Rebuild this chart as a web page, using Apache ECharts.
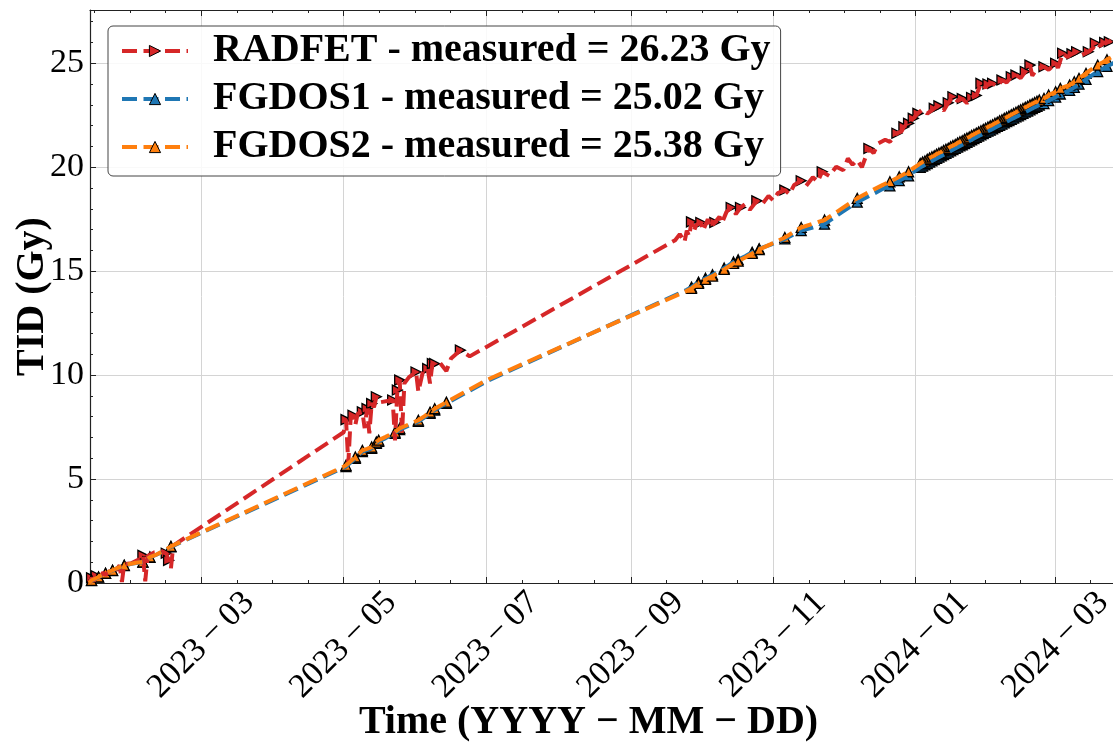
<!DOCTYPE html>
<html>
<head>
<meta charset="utf-8">
<script src="https://cdn.jsdelivr.net/npm/echarts@6/dist/echarts.min.js"></script>
<style>
  html, body { margin: 0; padding: 0; background: #fff; }
  #chart { width: 1113px; height: 744px; }
</style>
</head>
<body>
<div id="chart"></div>
<script>
// TID series, [date, Gy]
const radfet = [
  ['2023-01-12', 0.00], ['2023-01-13', 0.25], ['2023-01-14', 0.08], ['2023-01-15', 0.35], ['2023-01-16', 0.22],
  ['2023-01-18', 0.50], ['2023-01-19', 0.38], ['2023-01-21', 0.62], ['2023-01-23', 0.55], ['2023-01-25', 0.85],
  ['2023-01-26', 0.05], ['2023-01-27', 0.90], ['2023-01-30', 0.95], ['2023-02-02', 1.12], ['2023-02-04', 1.33],
  ['2023-02-05', 0.08], ['2023-02-06', 1.30], ['2023-02-09', 1.48], ['2023-02-12', 1.52], ['2023-02-14', 1.43],
  ['2023-02-15', 1.09], ['2023-02-16', 0.70], ['2023-02-17', 1.80],
  ['2023-05-01', 7.25], ['2023-05-02', 7.86], ['2023-05-03', 5.76], ['2023-05-04', 7.95], ['2023-05-05', 8.07],
  ['2023-05-06', 7.60], ['2023-05-07', 8.15], ['2023-05-09', 8.23], ['2023-05-10', 7.45], ['2023-05-11', 8.39],
  ['2023-05-12', 7.20], ['2023-05-13', 8.63], ['2023-05-14', 8.45], ['2023-05-15', 8.96], ['2023-05-17', 8.70],
  ['2023-05-22', 8.80], ['2023-05-23', 6.86], ['2023-05-24', 9.28], ['2023-05-25', 9.76], ['2023-05-26', 7.20],
  ['2023-05-27', 9.60], ['2023-05-29', 9.90], ['2023-06-01', 10.15], ['2023-06-02', 9.20], ['2023-06-04', 10.20],
  ['2023-06-06', 10.31], ['2023-06-07', 9.60], ['2023-06-08', 10.55], ['2023-06-09', 10.55], ['2023-06-11', 10.62],
  ['2023-06-14', 10.20], ['2023-06-16', 10.80], ['2023-06-20', 11.20], ['2023-06-24', 10.90],
  ['2023-09-20', 16.49], ['2023-09-22', 16.78], ['2023-09-24', 16.40], ['2023-09-25', 16.95], ['2023-09-26', 16.68],
  ['2023-09-27', 17.37], ['2023-09-28', 16.90], ['2023-09-29', 17.22], ['2023-10-01', 17.34], ['2023-10-02', 16.95],
  ['2023-10-04', 17.50], ['2023-10-05', 17.10], ['2023-10-07', 17.34], ['2023-10-09', 17.62], ['2023-10-10', 17.30],
  ['2023-10-12', 17.85], ['2023-10-14', 18.06], ['2023-10-16', 17.75], ['2023-10-18', 18.06], ['2023-10-20', 18.22],
  ['2023-10-22', 17.95], ['2023-10-25', 18.38], ['2023-10-27', 18.18], ['2023-10-30', 18.62], ['2023-11-01', 18.40],
  ['2023-11-03', 18.75], ['2023-11-06', 18.90], ['2023-11-08', 18.70], ['2023-11-10', 19.15], ['2023-11-13', 19.35],
  ['2023-11-15', 19.08], ['2023-11-18', 19.52], ['2023-11-20', 19.30], ['2023-11-22', 19.78], ['2023-11-25', 19.58],
  ['2023-11-28', 20.02], ['2023-12-01', 19.85], ['2023-12-03', 20.42], ['2023-12-05', 20.12], ['2023-12-07', 20.34],
  ['2023-12-09', 20.00], ['2023-12-12', 20.90], ['2023-12-14', 20.68], ['2023-12-16', 21.14], ['2023-12-19', 21.32],
  ['2023-12-21', 21.22], ['2023-12-24', 21.63], ['2023-12-26', 21.72], ['2023-12-27', 21.94], ['2023-12-29', 22.11],
  ['2023-12-31', 22.35], ['2024-01-02', 22.59], ['2024-01-04', 22.78], ['2024-01-06', 22.58], ['2024-01-09', 22.83],
  ['2024-01-11', 22.95], ['2024-01-13', 22.72], ['2024-01-15', 23.10], ['2024-01-17', 23.39], ['2024-01-19', 23.18],
  ['2024-01-21', 23.30], ['2024-01-23', 23.08], ['2024-01-25', 23.35], ['2024-01-27', 23.45], ['2024-01-29', 24.03],
  ['2024-01-31', 23.82], ['2024-02-01', 24.00], ['2024-02-03', 24.03], ['2024-02-05', 23.88], ['2024-02-07', 24.19],
  ['2024-02-09', 24.08], ['2024-02-11', 24.35], ['2024-02-13', 24.43], ['2024-02-15', 24.28], ['2024-02-17', 24.60],
  ['2024-02-19', 24.91], ['2024-02-20', 24.40], ['2024-02-22', 24.75], ['2024-02-25', 24.83], ['2024-02-27', 24.68],
  ['2024-03-01', 25.00], ['2024-03-02', 24.78], ['2024-03-04', 25.48], ['2024-03-06', 25.30], ['2024-03-08', 25.45],
  ['2024-03-10', 25.55], ['2024-03-12', 25.38], ['2024-03-15', 25.55], ['2024-03-17', 25.72], ['2024-03-18', 25.96],
  ['2024-03-20', 25.84], ['2024-03-22', 26.00], ['2024-03-24', 26.03], ['2024-03-26', 26.23]
];

const fgdos1 = [
  ['2023-01-12', 0.00], ['2023-01-13', 0.12], ['2023-01-14', 0.17], ['2023-01-16', 0.28], ['2023-01-17', 0.35],
  ['2023-01-19', 0.46], ['2023-01-20', 0.51], ['2023-01-22', 0.60], ['2023-01-24', 0.71], ['2023-01-27', 0.84],
  ['2023-01-30', 0.92], ['2023-02-01', 0.96], ['2023-02-04', 1.00], ['2023-02-07', 1.23], ['2023-02-10', 1.37],
  ['2023-02-13', 1.54], ['2023-02-16', 1.74],
  ['2023-05-01', 5.55], ['2023-05-02', 5.60], ['2023-05-04', 5.80], ['2023-05-06', 6.00], ['2023-05-09', 6.32],
  ['2023-05-11', 6.39], ['2023-05-13', 6.48], ['2023-05-15', 6.72], ['2023-05-16', 6.81], ['2023-05-19', 6.97],
  ['2023-05-23', 7.20], ['2023-05-25', 7.38], ['2023-05-29', 7.57], ['2023-06-02', 7.77], ['2023-06-05', 7.99],
  ['2023-06-07', 8.16], ['2023-06-09', 8.32], ['2023-06-14', 8.64], ['2023-07-02', 9.74],
  ['2023-09-25', 14.10], ['2023-09-27', 14.23], ['2023-09-30', 14.47], ['2023-10-03', 14.66], ['2023-10-06', 14.83],
  ['2023-10-09', 15.02], ['2023-10-11', 15.15], ['2023-10-13', 15.29], ['2023-10-15', 15.44], ['2023-10-17', 15.55],
  ['2023-10-20', 15.72], ['2023-10-23', 15.91], ['2023-10-26', 16.08], ['2023-10-31', 16.28], ['2023-11-06', 16.55],
  ['2023-11-10', 16.78], ['2023-11-13', 16.95], ['2023-11-18', 17.10], ['2023-11-23', 17.26], ['2023-11-30', 17.80],
  ['2023-12-07', 18.32], ['2023-12-14', 18.72], ['2023-12-18', 18.96], ['2023-12-21', 19.10], ['2023-12-23', 19.22],
  ['2023-12-25', 19.35], ['2023-12-27', 19.47], ['2023-12-29', 19.58], ['2023-12-31', 19.76], ['2024-01-02', 19.91],
  ['2024-01-03', 19.99], ['2024-01-04', 20.05], ['2024-01-05', 20.11], ['2024-01-06', 20.17], ['2024-01-07', 20.24],
  ['2024-01-08', 20.30], ['2024-01-09', 20.36], ['2024-01-10', 20.42], ['2024-01-11', 20.48], ['2024-01-12', 20.54],
  ['2024-01-13', 20.60], ['2024-01-14', 20.66], ['2024-01-15', 20.72], ['2024-01-16', 20.78], ['2024-01-17', 20.84],
  ['2024-01-18', 20.90], ['2024-01-19', 20.96], ['2024-01-20', 21.02], ['2024-01-21', 21.08], ['2024-01-22', 21.14],
  ['2024-01-23', 21.20], ['2024-01-24', 21.26], ['2024-01-25', 21.32], ['2024-01-26', 21.38], ['2024-01-27', 21.44],
  ['2024-01-28', 21.50], ['2024-01-29', 21.55], ['2024-01-30', 21.61], ['2024-01-31', 21.67], ['2024-02-01', 21.73],
  ['2024-02-02', 21.78], ['2024-02-03', 21.84], ['2024-02-04', 21.90], ['2024-02-05', 21.96], ['2024-02-06', 22.01],
  ['2024-02-07', 22.07], ['2024-02-08', 22.13], ['2024-02-09', 22.19], ['2024-02-10', 22.24], ['2024-02-11', 22.30],
  ['2024-02-12', 22.36], ['2024-02-13', 22.42], ['2024-02-14', 22.47], ['2024-02-15', 22.53], ['2024-02-16', 22.59],
  ['2024-02-17', 22.65], ['2024-02-18', 22.70], ['2024-02-19', 22.76], ['2024-02-20', 22.82], ['2024-02-21', 22.88],
  ['2024-02-22', 22.93], ['2024-02-23', 22.99], ['2024-02-25', 23.06], ['2024-02-27', 23.20], ['2024-03-01', 23.37],
  ['2024-03-03', 23.52], ['2024-03-05', 23.60], ['2024-03-07', 23.69], ['2024-03-09', 23.84], ['2024-03-11', 23.99],
  ['2024-03-14', 24.22], ['2024-03-16', 24.38], ['2024-03-19', 24.60], ['2024-03-21', 24.72], ['2024-03-23', 24.85],
  ['2024-03-25', 24.96], ['2024-03-26', 25.02]
];

const fgdos2 = [
  ['2023-01-12', 0.00], ['2023-01-13', 0.13], ['2023-01-14', 0.18], ['2023-01-16', 0.29], ['2023-01-17', 0.36],
  ['2023-01-19', 0.47], ['2023-01-20', 0.52], ['2023-01-22', 0.61], ['2023-01-24', 0.72], ['2023-01-27', 0.85],
  ['2023-01-30', 0.93], ['2023-02-01', 0.97], ['2023-02-04', 1.01], ['2023-02-07', 1.25], ['2023-02-10', 1.38],
  ['2023-02-13', 1.55], ['2023-02-16', 1.76],
  ['2023-05-01', 5.60], ['2023-05-02', 5.66], ['2023-05-04', 5.86], ['2023-05-06', 6.06], ['2023-05-09', 6.38],
  ['2023-05-11', 6.45], ['2023-05-13', 6.54], ['2023-05-15', 6.78], ['2023-05-16', 6.87], ['2023-05-19', 7.03],
  ['2023-05-23', 7.26], ['2023-05-25', 7.44], ['2023-05-29', 7.63], ['2023-06-02', 7.83], ['2023-06-05', 8.05],
  ['2023-06-07', 8.22], ['2023-06-09', 8.38], ['2023-06-14', 8.70], ['2023-07-02', 9.80],
  ['2023-09-25', 14.05], ['2023-09-27', 14.17], ['2023-09-30', 14.41], ['2023-10-03', 14.60], ['2023-10-06', 14.76],
  ['2023-10-09', 14.95], ['2023-10-11', 15.08], ['2023-10-13', 15.22], ['2023-10-15', 15.37], ['2023-10-17', 15.48],
  ['2023-10-20', 15.66], ['2023-10-23', 15.85], ['2023-10-26', 16.04], ['2023-10-31', 16.30], ['2023-11-06', 16.62],
  ['2023-11-10', 16.90], ['2023-11-13', 17.10], ['2023-11-18', 17.28], ['2023-11-23', 17.46], ['2023-11-30', 17.98],
  ['2023-12-07', 18.50], ['2023-12-14', 18.92], ['2023-12-18', 19.15], ['2023-12-21', 19.30], ['2023-12-23', 19.42],
  ['2023-12-25', 19.54], ['2023-12-27', 19.66], ['2023-12-29', 19.78], ['2023-12-31', 19.95], ['2024-01-02', 20.10],
  ['2024-01-03', 20.18], ['2024-01-04', 20.25], ['2024-01-05', 20.30], ['2024-01-06', 20.38], ['2024-01-07', 20.44],
  ['2024-01-08', 20.50], ['2024-01-09', 20.55], ['2024-01-10', 20.63], ['2024-01-11', 20.68], ['2024-01-12', 20.73],
  ['2024-01-13', 20.81], ['2024-01-14', 20.86], ['2024-01-15', 20.91], ['2024-01-16', 20.99], ['2024-01-17', 21.04],
  ['2024-01-18', 21.09], ['2024-01-19', 21.17], ['2024-01-20', 21.22], ['2024-01-21', 21.27], ['2024-01-22', 21.35],
  ['2024-01-23', 21.40], ['2024-01-24', 21.45], ['2024-01-25', 21.53], ['2024-01-26', 21.58], ['2024-01-27', 21.64],
  ['2024-01-28', 21.70], ['2024-01-29', 21.75], ['2024-01-30', 21.82], ['2024-01-31', 21.87], ['2024-02-01', 21.93],
  ['2024-02-02', 21.99], ['2024-02-03', 22.04], ['2024-02-04', 22.11], ['2024-02-05', 22.16], ['2024-02-06', 22.23],
  ['2024-02-07', 22.28], ['2024-02-08', 22.35], ['2024-02-09', 22.40], ['2024-02-10', 22.46], ['2024-02-11', 22.53],
  ['2024-02-12', 22.58], ['2024-02-13', 22.64], ['2024-02-14', 22.71], ['2024-02-15', 22.76], ['2024-02-16', 22.82],
  ['2024-02-17', 22.88], ['2024-02-18', 22.93], ['2024-02-19', 23.00], ['2024-02-20', 23.05], ['2024-02-21', 23.11],
  ['2024-02-22', 23.17], ['2024-02-23', 23.23], ['2024-02-25', 23.31], ['2024-02-27', 23.47], ['2024-03-01', 23.63],
  ['2024-03-03', 23.79], ['2024-03-05', 23.87], ['2024-03-07', 23.95], ['2024-03-09', 24.11], ['2024-03-11', 24.27],
  ['2024-03-14', 24.51], ['2024-03-16', 24.68], ['2024-03-19', 24.91], ['2024-03-21', 25.03], ['2024-03-23', 25.17],
  ['2024-03-25', 25.30], ['2024-03-26', 25.38]
];

// which samples carry a marker (single dates or [from, to] ranges)
const radfetMarks = [
  '2023-01-13', '2023-01-15', '2023-02-04', '2023-02-14', '2023-02-15',
  '2023-05-02', '2023-05-05', '2023-05-09', '2023-05-11', '2023-05-13', '2023-05-15', '2023-05-22', '2023-05-24',
  '2023-05-25', '2023-06-01', '2023-06-06', '2023-06-08', '2023-06-09', '2023-06-20',
  '2023-09-27', '2023-10-01', '2023-10-07', '2023-10-14', '2023-10-18', '2023-10-25', '2023-11-06', '2023-11-13',
  '2023-11-22', '2023-12-12', '2023-12-24', '2023-12-27', '2023-12-29', '2023-12-31', '2024-01-02', '2024-01-09',
  '2024-01-11', '2024-01-15', '2024-01-17', '2024-01-21', '2024-01-25', '2024-01-27', '2024-01-29', '2024-02-01',
  '2024-02-03', '2024-02-07', '2024-02-11', '2024-02-13', '2024-02-17', '2024-02-19', '2024-02-25', '2024-03-01',
  '2024-03-04', '2024-03-08', '2024-03-10', '2024-03-15', '2024-03-18', '2024-03-22', '2024-03-24'
];
const fgdosMarks = [
  '2023-01-13', '2023-01-16', '2023-01-19', '2023-01-22', '2023-01-27', '2023-02-04', '2023-02-07', '2023-02-16',
  '2023-05-02', '2023-05-06', '2023-05-09', '2023-05-13', '2023-05-15', '2023-05-16', '2023-05-23', '2023-05-25',
  '2023-06-02', '2023-06-07', '2023-06-09', '2023-06-14',
  '2023-09-27', '2023-09-30', '2023-10-03', '2023-10-06', '2023-10-11', '2023-10-15', '2023-10-17', '2023-10-23',
  '2023-10-26', '2023-11-06', '2023-11-13', '2023-11-23', '2023-12-07', '2023-12-21', '2023-12-25', '2023-12-29',
  '2024-01-03', ['2024-01-04', '2024-02-23'], '2024-02-25', '2024-02-27', '2024-03-01', '2024-03-03', '2024-03-07',
  '2024-03-09', '2024-03-11', '2024-03-14', '2024-03-19', '2024-03-23'
];

const seriesNames = [
  'RADFET - measured = 26.23 Gy',
  'FGDOS1 - measured = 25.02 Gy',
  'FGDOS2 - measured = 25.38 Gy'
];
const majorDates = ['2023-03-01', '2023-05-01', '2023-07-01', '2023-09-01', '2023-11-01', '2024-01-01', '2024-03-01'];
const yMajor = [0, 5, 10, 15, 20, 25];
const xStart = '2023-01-12T08:00:00Z';
const xEnd = '2024-03-29T00:00:00Z';

const FONT = "'Liberation Serif', 'DejaVu Serif', serif";
const toMs = d => Date.parse(d.length === 10 ? d + 'T00:00:00Z' : d);

function toPoints(list) {
    return list.map(p => [toMs(p[0]), p[1]]);
}

function pickMarks(list, marks) {
    const singles = new Set(marks.filter(m => typeof m === 'string'));
    const ranges = marks.filter(m => Array.isArray(m)).map(r => [toMs(r[0]), toMs(r[1])]);
    return list.filter(p => {
        const t = toMs(p[0]);
        return singles.has(p[0]) || ranges.some(r => t >= r[0] && t <= r[1]);
    }).map(p => [toMs(p[0]), p[1]]);
}

const xMin = toMs(xStart);
const xMax = toMs(xEnd);
const majorTicks = majorDates.map(toMs);

// minor ticks: 4 subdivisions of each major step
const minorTicks = [];
for (let i = 0; i < majorTicks.length - 1; i++) {
    const step = (majorTicks[i + 1] - majorTicks[i]) / 4;
    for (let k = 1; k < 4; k++) minorTicks.push(majorTicks[i] + k * step);
}
{
    const first = (majorTicks[1] - majorTicks[0]) / 4;
    for (let t = majorTicks[0] - first; t >= xMin; t -= first) minorTicks.push(t);
    const n = majorTicks.length;
    const last = (majorTicks[n - 1] - majorTicks[n - 2]) / 4;
    for (let t = majorTicks[n - 1] + last; t <= xMax; t += last) minorTicks.push(t);
}
const yMinor = [];
for (let v = 1; v < 28; v++) if (v % 5 !== 0) yMinor.push(v);

function fmtMonth(v) {
    const d = new Date(v);
    const m = String(d.getUTCMonth() + 1).padStart(2, '0');
    return d.getUTCFullYear() + '\u2009\u2212\u2009' + m;
}

const axisColor = '#222';
const gridColor = '#d4d4d4';

function xAxisDef(position, ticks, len, main) {
    return {
        type: 'value',
        position: position,
        min: xMin,
        max: xMax,
        axisLine: { show: main, lineStyle: { color: axisColor, width: 1.2 } },
        axisTick: { show: true, inside: true, length: len, customValues: ticks, lineStyle: { color: axisColor, width: 1 } },
        axisLabel: { show: false },
        splitLine: { show: false }
    };
}

const xBottom = xAxisDef('bottom', majorTicks, 6, true);
xBottom.splitLine = { show: true, lineStyle: { color: gridColor, width: 1 } };
xBottom.axisLabel = {
    show: true,
    customValues: majorTicks,
    formatter: fmtMonth,
    rotate: 45,
    align: 'center',
    verticalAlign: 'middle',
    margin: 62,
    fontFamily: FONT,
    fontSize: 34,
    color: '#000'
};
xBottom.name = 'Time (YYYY \u2212 MM \u2212 DD)';
xBottom.nameLocation = 'middle';
xBottom.nameGap = 120;
xBottom.nameMoveOverlap = false;
xBottom.nameTextStyle = { fontFamily: FONT, fontWeight: 'bold', fontSize: 40, color: '#000', padding: [0, 34, 0, 0] };

const chart = echarts.init(document.getElementById('chart'));
const colors = ['#d62728', '#1f77b4', '#ff7f0e'];
const datasets = [radfet, fgdos1, fgdos2];
const markSets = [radfetMarks, fgdosMarks, fgdosMarks];

const series = [];
datasets.forEach((ds, i) => {
    const rot = i === 0 ? -90 : 0;
    series.push({
        name: seriesNames[i],
        type: 'line',
        data: toPoints(ds),
        symbol: 'triangle',
        symbolRotate: rot,
        showSymbol: false,
        lineStyle: { color: colors[i], width: 4, type: [15, 6.5] },
        itemStyle: { color: colors[i], borderColor: '#000', borderWidth: 1 },
        emphasis: { disabled: true },
        silent: true
    });
    series.push({
        name: seriesNames[i],
        type: 'scatter',
        data: pickMarks(ds, markSets[i]),
        symbol: 'triangle',
        symbolSize: 10,
        symbolRotate: rot,
        itemStyle: { color: colors[i], borderColor: '#000', borderWidth: 1.3, opacity: 1 },
        emphasis: { disabled: true },
        silent: true
    });
});

chart.setOption({
    animation: false,
    backgroundColor: '#fff',
    grid: { left: 90, right: -8, top: 10, bottom: 161, outerBoundsMode: 'none', containLabel: false },
    legend: {
        data: seriesNames,
        orient: 'vertical',
        left: 108,
        top: 26,
        itemWidth: 66,
        itemHeight: 14,
        itemGap: 8,
        padding: [5, 10, 9, 12],
        backgroundColor: 'rgba(255,255,255,0.85)',
        borderColor: '#444',
        borderWidth: 1,
        borderRadius: 5,
        selectedMode: false,
        itemStyle: { borderColor: '#000', borderWidth: 1 },
        lineStyle: { width: 4, type: [15, 6.5] },
        textStyle: { fontFamily: FONT, fontWeight: 'bold', fontSize: 40, lineHeight: 40, color: '#000', padding: [0, 0, 0, 20] }
    },
    xAxis: [
        xBottom,
        xAxisDef('bottom', minorTicks, 3, false),
        xAxisDef('top', majorTicks, 6, true),
        xAxisDef('top', minorTicks, 3, false)
    ],
    yAxis: [
        {
            type: 'value',
            min: 0,
            max: 27.56,
            axisLine: { show: true, lineStyle: { color: axisColor, width: 1.2 } },
            axisTick: { show: true, inside: true, length: 6, customValues: yMajor, lineStyle: { color: axisColor } },
            axisLabel: { customValues: yMajor, fontFamily: FONT, fontSize: 34, color: '#000', margin: 6 },
            splitLine: { show: true, lineStyle: { color: gridColor, width: 1 } },
            name: 'TID (Gy)',
            nameLocation: 'middle',
            nameGap: 37,
            nameRotate: 90,
            nameMoveOverlap: false,
            nameTextStyle: { fontFamily: FONT, fontWeight: 'bold', fontSize: 40, color: '#000' }
        },
        {
            type: 'value',
            position: 'left',
            min: 0,
            max: 27.56,
            axisLine: { show: false },
            axisTick: { show: true, inside: true, length: 3, customValues: yMinor, lineStyle: { color: axisColor } },
            axisLabel: { show: false },
            splitLine: { show: false }
        }
    ],
    series: series
});
</script>
</body>
</html>
